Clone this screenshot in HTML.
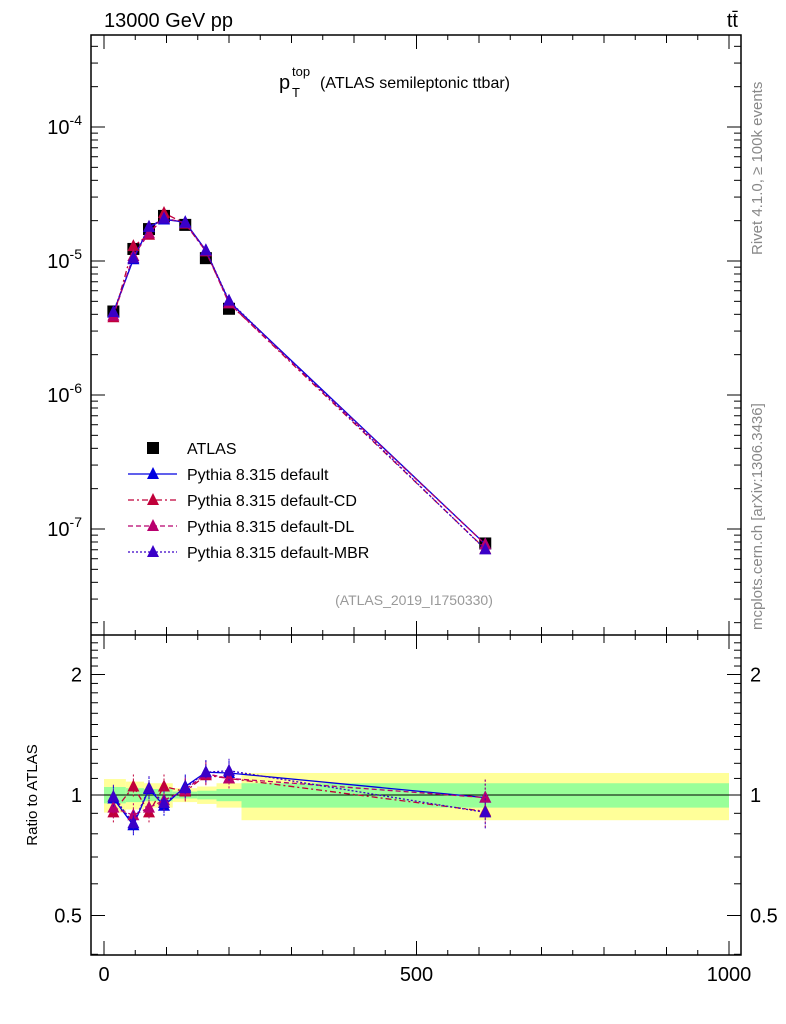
<!DOCTYPE html>
<html><head><meta charset="utf-8"><style>
body{margin:0;background:#fff}
svg{display:block;font-family:"Liberation Sans",sans-serif}
</style></head><body>
<svg id="c" width="786" height="1024" viewBox="0 0 786 1024" xmlns="http://www.w3.org/2000/svg">
<text x="104" y="27" font-size="20">13000 GeV pp</text>
<text x="738" y="27" font-size="20" text-anchor="end">tt̄</text>
<g>
<text x="279" y="89" font-size="20">p</text>
<text x="292" y="76" font-size="13">top</text>
<text x="292" y="97" font-size="13">T</text>
<text x="320" y="88" font-size="16">(ATLAS semileptonic ttbar)</text>
</g>
<text transform="translate(762,255) rotate(-90)" font-size="15" fill="#888">Rivet 4.1.0, ≥ 100k events</text>
<text transform="translate(762,630) rotate(-90)" font-size="15" fill="#888">mcplots.cern.ch [arXiv:1306.3436]</text>
<text x="414" y="605" font-size="14" fill="#999" text-anchor="middle">(ATLAS_2019_I1750330)</text>
<text transform="translate(37,795) rotate(-90)" font-size="15" text-anchor="middle">Ratio to ATLAS</text>
<g id="bands"></g><g id="main"></g><g id="ratio"></g><g id="axes"></g><g id="legend"></g>
</svg>
<script>
const binEdges=[0,35,64,88,110,149,180,220,1000];
const binCenters=[15,47,72,96,130,163,200,610];
const atlas=[4.2e-6,1.23e-5,1.73e-5,2.17e-5,1.86e-5,1.05e-5,4.4e-6,7.8e-8];
const mcDefault=[4.12e-6,1.03e-5,1.79e-5,2.04e-5,1.95e-5,1.20e-5,4.99e-6,7.7e-8];
const mcCD=[3.80e-6,1.29e-5,1.57e-5,2.28e-5,1.90e-5,1.18e-5,4.84e-6,7.1e-8];
const mcDL=[3.91e-6,1.09e-5,1.61e-5,2.10e-5,1.92e-5,1.19e-5,4.84e-6,7.7e-8];
const mcMBR=[4.16e-6,1.05e-5,1.80e-5,2.07e-5,1.93e-5,1.20e-5,5.06e-6,7.05e-8];
const rDefault=[0.98,0.84,1.035,0.94,1.05,1.14,1.135,0.985];
const rCD=[0.905,1.05,0.905,1.05,1.02,1.12,1.10,0.91];
const rDL=[0.93,0.89,0.93,0.97,1.03,1.13,1.10,0.985];
const rMBR=[0.99,0.85,1.04,0.955,1.04,1.14,1.15,0.905];
const bandYellow=[0.096,0.08,0.07,0.07,0.04,0.05,0.07,0.135];
const bandGreen=[0.047,0.04,0.035,0.035,0.02,0.025,0.035,0.07];
const xTicks=[0,500,1000];
const mainTicks=[-7,-6,-5,-4];
const ratioTicks=[0.5,1,2];

const NS="http://www.w3.org/2000/svg";
const L=91,R=741,T=35,MB=635,RB=955;
const X=v=>104+v*0.625;
const Y=v=>261-(Math.log10(v)+5)*134;
const YR=v=>795-Math.log2(v)*120.5;
function mk(p,tag,a){const e=document.createElementNS(NS,tag);for(const k in a)e.setAttribute(k,a[k]);p.appendChild(e);return e;}
const g=id=>document.getElementById(id);
const series=[
 {n:'default',m:mcDefault,r:rDefault,c:'#0000e0',d:''},
 {n:'default-cd',m:mcCD,r:rCD,c:'#c0003a',d:'6 3 2 3'},
 {n:'default-dl',m:mcDL,r:rDL,c:'#b8006e',d:'5 3'},
 {n:'default-mbr',m:mcMBR,r:rMBR,c:'#3a00c8',d:'2 2'}];
function tri(p,x,y,c){return mk(p,'polygon',{points:`${x-6},${y+5} ${x+6},${y+5} ${x},${y-7}`,fill:c});}
const B=g('bands');
for(let i=0;i<bandYellow.length;i++){
 const x0=X(binEdges[i]),x1=X(binEdges[i+1]);
 const y=mk(B,'rect',{x:x0,y:YR(1+bandYellow[i]),width:x1-x0,height:YR(1-bandYellow[i])-YR(1+bandYellow[i]),fill:'#ffff99'});
 
 
 const gr=mk(B,'rect',{x:x0,y:YR(1+bandGreen[i]),width:x1-x0,height:YR(1-bandGreen[i])-YR(1+bandGreen[i]),fill:'#99ff99'});
 
 
}
mk(B,'line',{x1:L,x2:R,y1:YR(1),y2:YR(1),stroke:'#000','stroke-width':1});
const M=g('main');
for(let i=0;i<atlas.length;i++){
 const s=mk(M,'rect',{x:X(binCenters[i])-6,y:Y(atlas[i])-6,width:12,height:12,fill:'#000'});
 
 
}
const RG=g('ratio');
series.forEach(s=>{
 const pl=mk(M,'polyline',{points:s.m.map((v,i)=>X(binCenters[i])+','+Y(v)).join(' '),fill:'none',stroke:s.c,'stroke-width':1.3,'stroke-dasharray':s.d});
 
 
 s.m.forEach((v,i)=>{const t=tri(M,X(binCenters[i]),Y(v),s.c);
  
  });
 const rl=mk(RG,'polyline',{points:s.r.map((v,i)=>X(binCenters[i])+','+YR(v)).join(' '),fill:'none',stroke:s.c,'stroke-width':1.3,'stroke-dasharray':s.d});
 
 
 s.r.forEach((v,i)=>{const x=X(binCenters[i]),y=YR(v);const e=i==7?18:12;
  mk(RG,'line',{x1:x,x2:x,y1:y-e,y2:y+e,stroke:s.c,'stroke-width':1,'stroke-dasharray':'2 2'});
  const t=tri(RG,x,y,s.c);
  
  });
});
const A=g('axes');
mk(A,'rect',{x:L,y:T,width:R-L,height:RB-T,fill:'none',stroke:'#000','stroke-width':1.5});
mk(A,'line',{x1:L,x2:R,y1:MB,y2:MB,stroke:'#000','stroke-width':1.5});
for(let v=0;v<=1000;v+=50){const x=X(v);const len=v%500==0?14:(v%100==0?8:5);
 [T,MB].forEach(y=>mk(A,'line',{x1:x,x2:x,y1:y,y2:y+len,stroke:'#000'}));
 [MB,RB].forEach(y=>mk(A,'line',{x1:x,x2:x,y1:y,y2:y-len,stroke:'#000'}));}
xTicks.forEach(v=>{const t=mk(A,'text',{x:X(v),y:RB+26,'font-size':20,'text-anchor':'middle'});t.textContent=v;
 });
for(let e=-8;e<=-3;e++){for(let k=1;k<10;k++){const v=k*Math.pow(10,e);const y=Y(v);if(y<T||y>MB)continue;
 const len=k==1?14:7;mk(A,'line',{x1:L,x2:L+len,y1:y,y2:y,stroke:'#000'});mk(A,'line',{x1:R,x2:R-len,y1:y,y2:y,stroke:'#000'});}}
mainTicks.forEach(e=>{const t=mk(A,'text',{x:82,y:Y(Math.pow(10,e))+7,'font-size':20,'text-anchor':'end'});
 t.innerHTML='10<tspan font-size="14" dy="-9">'+e+'</tspan>';
 });
for(let v=0.4;v<=2.5;v+=0.1){const y=YR(v);if(y<MB||y>RB)continue;const maj=[0.5,1,2].some(m=>Math.abs(m-v)<1e-6);const len=maj?14:7;
 mk(A,'line',{x1:L,x2:L+len,y1:y,y2:y,stroke:'#000'});mk(A,'line',{x1:R,x2:R-len,y1:y,y2:y,stroke:'#000'});}
ratioTicks.forEach(v=>{[[82,'end'],[750,'start']].forEach(([x,an])=>{const t=mk(A,'text',{x:x,y:YR(v)+7,'font-size':20,'text-anchor':an});t.textContent=v;
 });});
const LG=g('legend');
const lgRows=[['ATLAS',null],['Pythia 8.315 default',series[0]],['Pythia 8.315 default-CD',series[1]],['Pythia 8.315 default-DL',series[2]],['Pythia 8.315 default-MBR',series[3]]];
lgRows.forEach((r,i)=>{const y=448+i*26;const s=r[1];
 if(!s)mk(LG,'rect',{x:147,y:y-6,width:12,height:12,fill:'#000'});
 else{mk(LG,'line',{x1:128,x2:177,y1:y,y2:y,stroke:s.c,'stroke-width':1.3,'stroke-dasharray':s.d});tri(LG,153,y,s.c);}
 const t=mk(LG,'text',{x:187,y:y+6,'font-size':16});t.textContent=r[0];
 });
</script>
</body></html>
